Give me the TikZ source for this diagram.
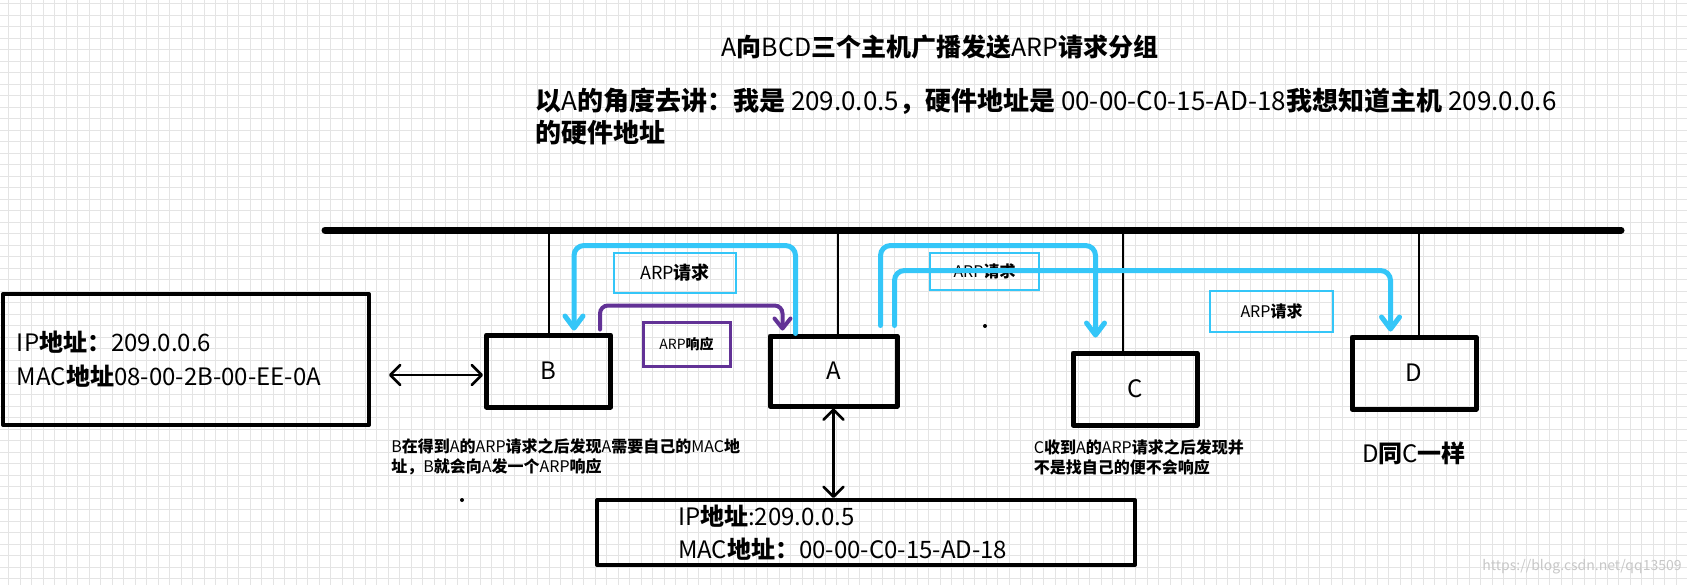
\documentclass[tikz,border=0pt]{standalone}
\usepackage{fontspec}
\setmainfont{Noto Sans CJK SC}
\usepackage{tikz}
\usetikzlibrary{arrows.meta,positioning,calc}
\definecolor{clrReq}{RGB}{52,198,248}
\definecolor{clrResp}{RGB}{98,50,150}
\definecolor{clrGrid}{RGB}{228,228,228}
\tikzset{
  host/.style={rectangle,draw=black,line width=2.5pt,line join=round,
    minimum width=62pt,minimum height=36pt,inner sep=0pt,
    font=\fontsize{12}{14}\selectfont},
  addrbox/.style={rectangle,draw=black,line width=2pt,line join=round,
    align=left,inner ysep=1pt,font=\fontsize{12}{17}\selectfont},
  reqlabel/.style={rectangle,draw=clrReq,line width=1pt,inner sep=0pt,
    font=\fontsize{8}{10}\selectfont},
  resplabel/.style={rectangle,draw=clrResp,line width=1.5pt,inner sep=0pt,
    font=\fontsize{7}{9}\selectfont},
  note/.style={align=left,inner sep=0pt,font=\fontsize{8}{10}\selectfont},
  heading/.style={inner sep=0pt,font=\fontsize{12.5}{16}\selectfont},
  bus/.style={line width=3.5pt,line cap=round},
  drop/.style={line width=1pt},
  reqline/.style={draw=clrReq,line width=2.5pt,rounded corners=5pt,
    line cap=round,-{Straight Barb[length=6pt,width=9pt,round]}},
  respline/.style={draw=clrResp,line width=2pt,rounded corners=4pt,
    line cap=round,-{Straight Barb[length=5pt,width=8pt,round]}},
  biarrow/.style={line width=1.3pt,
    {Straight Barb[length=5pt,width=10pt,round]}-{Straight Barb[length=5pt,width=10pt,round]}},
  gridline/.style={draw=clrGrid,line width=0.5pt}
}

\begin{document}
\begin{tikzpicture}[x=0.5pt,y=-0.5pt]
  \useasboundingbox (0,0) rectangle (1687,585);
  \fill[white] (0,0) rectangle (1687,585);
  % grid paper
  \foreach \gx in {0,...,146}
    \draw[gridline] ({8.7+11.5*\gx},0) -- ++(0,585);
  \foreach \gy in {0,...,50}
    \draw[gridline] (0,{3.7+11.5*\gy}) -- ++(1687,0);

  \node[heading] (title) at (940,47)
    {A\textbf{向}BCD\textbf{三个主机广播发送}ARP\textbf{请求分组}};
  \node[heading,font=\fontsize{13}{16}\selectfont,align=left,anchor=north west]
    (intro) at (535,88)
    {\textbf{以}A\textbf{的角度去讲：我是} 209.0.0.5\textbf{，硬件地址是}
     00-00-C0-15-AD-18\textbf{我想知道主机} 209.0.0.6\\
     \textbf{的硬件地址}};

  % the shared line
  \coordinate (busL) at (325,230);
  \coordinate (busR) at (1621,230);
  \draw[bus] (busL) -- (busR);

  \node[host] (B) at (548.5,371) {B};
  \node[host,minimum width=63.5pt,minimum height=35pt] (A) at (833.5,371) {A};
  \node[host] (C) at (1135,389) {C};
  \node[host] (D) at (1414,373) {D};

  \draw[drop] (B.north) -- (B.north |- busL);
  \draw[drop] ($(A.north)+(4,0)$) -- ($(A.north |- busL)+(4,0)$);
  \draw[drop] ($(C.north)+(-12,0)$) -- ($(C.north |- busL)+(-12,0)$);
  \draw[drop] ($(D.north)+(5,0)$) -- ($(D.north |- busL)+(5,0)$);

  \node[addrbox,text width=169pt,inner xsep=7pt,minimum height=65.5pt]
    (infoB) at (186,359.5)
    {IP\textbf{地址：}209.0.0.6\\MAC\textbf{地址}08-00-2B-00-EE-0A};
  \node[addrbox,text width=188pt,inner xsep=40.5pt,minimum height=32.5pt,
    font=\fontsize{12}{16.5}\selectfont]
    (infoA) at (866,532.5)
    {IP\textbf{地址}:209.0.0.5\\MAC\textbf{地址：}00-00-C0-15-AD-18};

  \node[reqlabel,minimum width=61pt,minimum height=20pt,
    font=\fontsize{9}{11}\selectfont] (req1) at (675,273) {ARP\textbf{请求}};
  \node[reqlabel,minimum width=54.5pt,minimum height=18.5pt]
    (req2) at (984.5,271.5) {ARP\textbf{请求}};
  \node[reqlabel,minimum width=61.5pt,minimum height=20.5pt]
    (req3) at (1271.5,311.5) {ARP\textbf{请求}};
  \node[resplabel,minimum width=43.5pt,minimum height=22pt]
    (resp) at (686.5,344) {ARP\textbf{响应}};

  \draw[reqline] ($(A.north west)+(28,0)$) -- ++(0,-88)
    -| ($(B.north west)+(90,-2)$);
  \draw[reqline] ($(A.north east)+(-19,-8)$) -- ++(0,-80)
    -| ($(C.north west)+(25,-13)$);
  \draw[reqline] ($(A.north east)+(-5,-8)$) -- ++(0,-55)
    -| ($(D.north west)+(41,-3)$);
  \draw[respline] ($(B.north east)+(-13,-3)$) -- ++(0,-24)
    -| ($(A.north west)+(15,-3)$);

  \draw[biarrow] ($(infoB.east |- B.west)+(18,4)$) -- ($(B.west)+(-1,4)$);
  \draw[biarrow] (A.south) -- (A.south |- infoA.north);

  \node[note,below=14.5pt of B.south west,anchor=north west,xshift=-46.5pt]
    (noteB)
    {B\textbf{在得到}A\textbf{的}ARP\textbf{请求之后发现}A\textbf{需要自己的}MAC\textbf{地}\\
     \textbf{址，}B\textbf{就会向}A\textbf{发一个}ARP\textbf{响应}};
  \node[note,below=6pt of C.south west,anchor=north west,xshift=-18.5pt]
    (noteC)
    {C\textbf{收到}A\textbf{的}ARP\textbf{请求之后发现并}\\
     \textbf{不是找自己的便不会响应}};
  \node[heading,font=\fontsize{12}{14}\selectfont,below=15pt of D.south]
    (sameD) {D\textbf{同}C\textbf{一样}};

  \fill (985,326) circle (1pt);
  \fill (462,500) circle (1pt);
  \node[anchor=east,inner sep=0pt,text=black!22,font=\fontsize{7}{9}\selectfont]
    (mark) at (1682,567) {https://blog.csdn.net/qq13509};
\end{tikzpicture}
\end{document}
